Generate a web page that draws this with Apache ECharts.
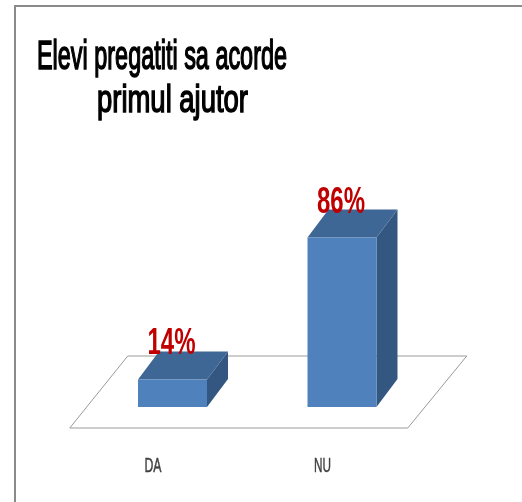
<!DOCTYPE html>
<html>
<head>
<meta charset="utf-8">
<script src="https://cdn.jsdelivr.net/npm/echarts@6/dist/echarts.min.js"></script>
<style>html,body{margin:0;padding:0;background:#fff;}#chart{width:522px;height:502px;}</style>
</head>
<body>
<div id="chart"></div>
<script>
const categories = ['DA', 'NU'];
const values = [14, 86];
const valueLabels = ['14%', '86%'];
const titleLines = ['Elevi pregatiti sa acorde', 'primul ajutor'];

const FONT = '"Liberation Sans", Arial, sans-serif';
const measureCtx = document.createElement('canvas').getContext('2d');
function textWidth(text, font) { measureCtx.font = font; return measureCtx.measureText(text).width; }

function stretchedText(text, opts) {
  const font = (opts.weight || 'normal') + ' ' + opts.size + 'px ' + FONT;
  const sx = opts.width / textWidth(text, font);
  const sy = opts.capHeight / (0.716 * opts.size);
  const style = { text: text, font: font, fill: opts.color, align: opts.align || 'center', verticalAlign: 'middle' };
  if (opts.strokeWidth) { style.stroke = opts.color; style.lineWidth = opts.strokeWidth; }
  return { type: 'text', x: opts.x, y: opts.y, scaleX: sx, scaleY: sy, z2: 10, style: style };
}

const chart = echarts.init(document.getElementById('chart'));
const DEPTH_X = 21, DEPTH_Y = -28;

const option = {
  animation: false,
  backgroundColor: '#fff',
  grid: { left: 87.75, right: 95.25, top: 210, bottom: 95 },
  xAxis: { type: 'category', data: categories, show: false },
  yAxis: { type: 'value', min: 0, max: 100, show: false },
  graphic: [
    { type: 'polyline', shape: { points: [[15, 502], [15, 6], [522, 6]] }, style: { stroke: '#8a8a8a', lineWidth: 2, fill: null } },
    stretchedText(titleLines[0], { x: 37, y: 57.5, size: 28, capHeight: 29, width: 250, align: 'left', color: '#000', strokeWidth: 1.1 }),
    stretchedText(titleLines[1], { x: 97, y: 101.5, size: 28, capHeight: 28, width: 151, align: 'left', color: '#000', strokeWidth: 1.1 })
  ],
  series: [
    {
      type: 'custom',
      z: 1,
      data: [0],
      renderItem: function (params, api) {
        const cs = params.coordSys;
        const zeroY = api.coord([0, 0])[1];
        const fy = zeroY + 21, by = fy - 72;
        const fl = cs.x - 18, fr = cs.x + cs.width - 19;
        return {
          type: 'polygon',
          shape: { points: [[fl, fy], [fr, fy], [fr + 59, by], [fl + 58, by]] },
          style: { fill: '#fff', stroke: '#9a9a9a', lineWidth: 1 }
        };
      }
    },
    {
      type: 'custom',
      z: 2,
      data: values.map(function (v, i) { return [i, v]; }),
      encode: { x: 0, y: 1 },
      renderItem: function (params, api) {
        const idx = api.value(0);
        const base = api.coord([idx, 0]);
        const top = api.coord([idx, api.value(1)]);
        const w = api.size([1, 0])[0] * 0.407;
        const x0 = base[0] - w / 2, x1 = base[0] + w / 2;
        const y0 = top[1], y1 = base[1];
        const dx = DEPTH_X, dy = DEPTH_Y;
        return {
          type: 'group',
          children: [
            { type: 'polygon', shape: { points: [[x1, y0], [x1 + dx, y0 + dy], [x1 + dx, y1 + dy], [x1, y1]] }, style: { fill: '#335780' } },
            { type: 'polygon', shape: { points: [[x0, y0], [x0 + dx, y0 + dy], [x1 + dx, y0 + dy], [x1, y0]] }, style: { fill: '#3e6796' } },
            { type: 'rect', shape: { x: x0, y: y0, width: w, height: y1 - y0 }, style: { fill: '#4f81bd' } },
            stretchedText(valueLabels[params.dataIndex], { x: base[0] - 1, y: y0 - 35, size: 28, weight: 'bold', capHeight: 26, width: 48, color: '#c00000' }),
            stretchedText(categories[params.dataIndex], { x: base[0] - 19.5, y: y1 + 59, size: 13, capHeight: 15, width: 17, color: '#404040', strokeWidth: 0.3 })
          ]
        };
      }
    }
  ]
};
chart.setOption(option);
</script>
</body>
</html>
